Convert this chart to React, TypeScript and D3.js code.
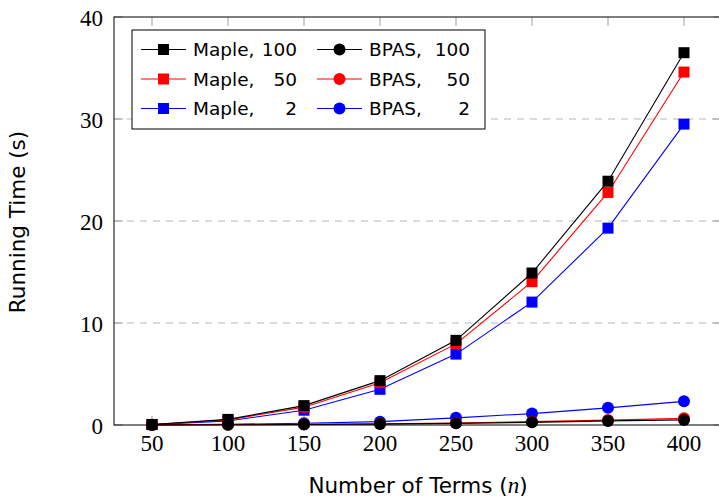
import React, { useEffect, useRef } from 'react';
import * as d3 from 'd3';

// number of terms
const terms = [50, 100, 150, 200, 250, 300, 350, 400];

// running times (s)
const maple100 = [0.05, 0.55, 1.9, 4.35, 8.3, 14.9, 23.9, 36.5];
const maple50 = [0.05, 0.5, 1.75, 4.15, 7.95, 14.05, 22.8, 34.6];
const maple2 = [0.04, 0.4, 1.45, 3.5, 6.95, 12.05, 19.3, 29.5];
const bpas100 = [0.01, 0.02, 0.05, 0.09, 0.16, 0.26, 0.4, 0.5];
const bpas50 = [0.01, 0.03, 0.07, 0.12, 0.2, 0.33, 0.48, 0.66];
const bpas2 = [0.02, 0.07, 0.17, 0.33, 0.7, 1.12, 1.68, 2.32];

const yTicks = [0, 10, 20, 30, 40];

const series = [
  { name: 'Maple', n: '100', values: maple100, color: '#000000', marker: 'square' },
  { name: 'BPAS', n: '100', values: bpas100, color: '#000000', marker: 'circle' },
  { name: 'Maple', n: '50', values: maple50, color: '#ff0000', marker: 'square' },
  { name: 'BPAS', n: '50', values: bpas50, color: '#ff0000', marker: 'circle' },
  { name: 'Maple', n: '2', values: maple2, color: '#0000ff', marker: 'square' },
  { name: 'BPAS', n: '2', values: bpas2, color: '#0000ff', marker: 'circle' },
];

const App = () => {
  const svgRef = useRef<SVGSVGElement>(null);
  const width = 719;
  const height = 499;

  useEffect(() => {
    const svg = d3.select(svgRef.current);
    svg.selectAll('*').remove();

    const left = 114, right = 722, top = 17, bottom = 425;
    const serif = '"Liberation Serif", "DejaVu Serif", serif';
    const sans = '"DejaVu Sans", sans-serif';

    const x = d3.scaleLinear().domain([25, 425]).range([left, right]);
    const y = d3.scaleLinear().domain([0, 40]).range([bottom, top]);

    // grid
    svg.append('g')
      .selectAll('line')
      .data(yTicks.filter(d => d > 0 && d < 40))
      .enter()
      .append('line')
      .attr('x1', left).attr('x2', right)
      .attr('y1', d => y(d)).attr('y2', d => y(d))
      .attr('stroke', '#b8b8b8')
      .attr('stroke-width', 1)
      .attr('stroke-dasharray', '7,6');

    // ticks (inward, grey)
    const tickG = svg.append('g').attr('stroke', '#a0a0a0').attr('stroke-width', 1);
    terms.forEach(t => {
      tickG.append('line').attr('x1', x(t)).attr('x2', x(t)).attr('y1', bottom).attr('y2', bottom - 9);
      tickG.append('line').attr('x1', x(t)).attr('x2', x(t)).attr('y1', top).attr('y2', top + 9);
    });
    yTicks.forEach(t => {
      tickG.append('line').attr('x1', left).attr('x2', left + 9).attr('y1', y(t)).attr('y2', y(t));
      tickG.append('line').attr('x1', right).attr('x2', right - 9).attr('y1', y(t)).attr('y2', y(t));
    });

    // frame
    svg.append('rect')
      .attr('x', left).attr('y', top)
      .attr('width', right - left).attr('height', bottom - top)
      .attr('fill', 'none')
      .attr('stroke', '#000')
      .attr('stroke-width', 1);

    // tick labels
    svg.append('g')
      .selectAll('text')
      .data(terms)
      .enter()
      .append('text')
      .attr('x', d => x(d))
      .attr('y', 451)
      .attr('text-anchor', 'middle')
      .style('font-family', serif)
      .style('font-size', '23px')
      .text(d => d);

    svg.append('g')
      .selectAll('text')
      .data(yTicks)
      .enter()
      .append('text')
      .attr('x', 103)
      .attr('y', d => y(d))
      .attr('dy', '0.37em')
      .attr('text-anchor', 'end')
      .style('font-family', serif)
      .style('font-size', '23px')
      .text(d => d);

    // axis labels
    const xl = svg.append('text')
      .attr('x', 418)
      .attr('y', 493)
      .attr('text-anchor', 'middle')
      .style('font-family', sans)
      .style('font-size', '21.5px');
    xl.append('tspan').text('Number of Terms (');
    xl.append('tspan').style('font-family', serif).style('font-style', 'italic').style('font-size', '23px').text('n');
    xl.append('tspan').text(')');

    svg.append('text')
      .attr('transform', 'translate(25,222) rotate(-90)')
      .attr('text-anchor', 'middle')
      .style('font-family', sans)
      .style('font-size', '21.5px')
      .text('Running Time (s)');

    const drawMarker = (g, marker, color, cx, cy, s) => {
      if (marker === 'square') {
        g.append('rect')
          .attr('x', cx - s / 2).attr('y', cy - s / 2)
          .attr('width', s).attr('height', s)
          .attr('fill', color);
      } else {
        g.append('circle')
          .attr('cx', cx).attr('cy', cy)
          .attr('r', s / 2)
          .attr('fill', color);
      }
    };

    // series, drawn in reverse so black ends up on top
    const line = d3.line<number>()
      .x((d, i) => x(terms[i]))
      .y(d => y(d));

    [...series].reverse().forEach(s => {
      const g = svg.append('g');
      g.append('path')
        .attr('d', line(s.values))
        .attr('fill', 'none')
        .attr('stroke', s.color)
        .attr('stroke-width', 1.1);
      s.values.forEach((v, i) => drawMarker(g, s.marker, s.color, x(terms[i]), y(v), s.marker === 'square' ? 11 : 12));
    });

    // legend
    const lg = svg.append('g');
    lg.append('rect')
      .attr('x', 132).attr('y', 30)
      .attr('width', 353).attr('height', 99)
      .attr('fill', '#fff')
      .attr('stroke', '#000')
      .attr('stroke-width', 1);

    series.forEach((s, i) => {
      const col = i % 2;
      const row = Math.floor(i / 2);
      const cy = 49.5 + row * 29.5;
      const x0 = col === 0 ? 141 : 317;
      const item = lg.append('g');
      item.append('line')
        .attr('x1', x0).attr('x2', x0 + 45)
        .attr('y1', cy).attr('y2', cy)
        .attr('stroke', s.color)
        .attr('stroke-width', 1.1);
      drawMarker(item, s.marker, s.color, x0 + 22.5, cy, s.marker === 'square' ? 11 : 12);
      item.append('text')
        .attr('x', x0 + 52)
        .attr('y', cy)
        .attr('dy', '0.37em')
        .style('font-family', sans)
        .style('font-size', '18.5px')
        .text(s.name + ',');
      item.append('text')
        .attr('x', col === 0 ? 297 : 470)
        .attr('y', cy)
        .attr('dy', '0.37em')
        .attr('text-anchor', 'end')
        .style('font-family', sans)
        .style('font-size', '18.5px')
        .text(s.n);
    });
  }, []);

  return (
    <svg
      ref={svgRef}
      width={width}
      height={height}
      style={{ position: 'absolute', left: 0, top: 0, background: '#fff' }}
    />
  );
};

export default App;
